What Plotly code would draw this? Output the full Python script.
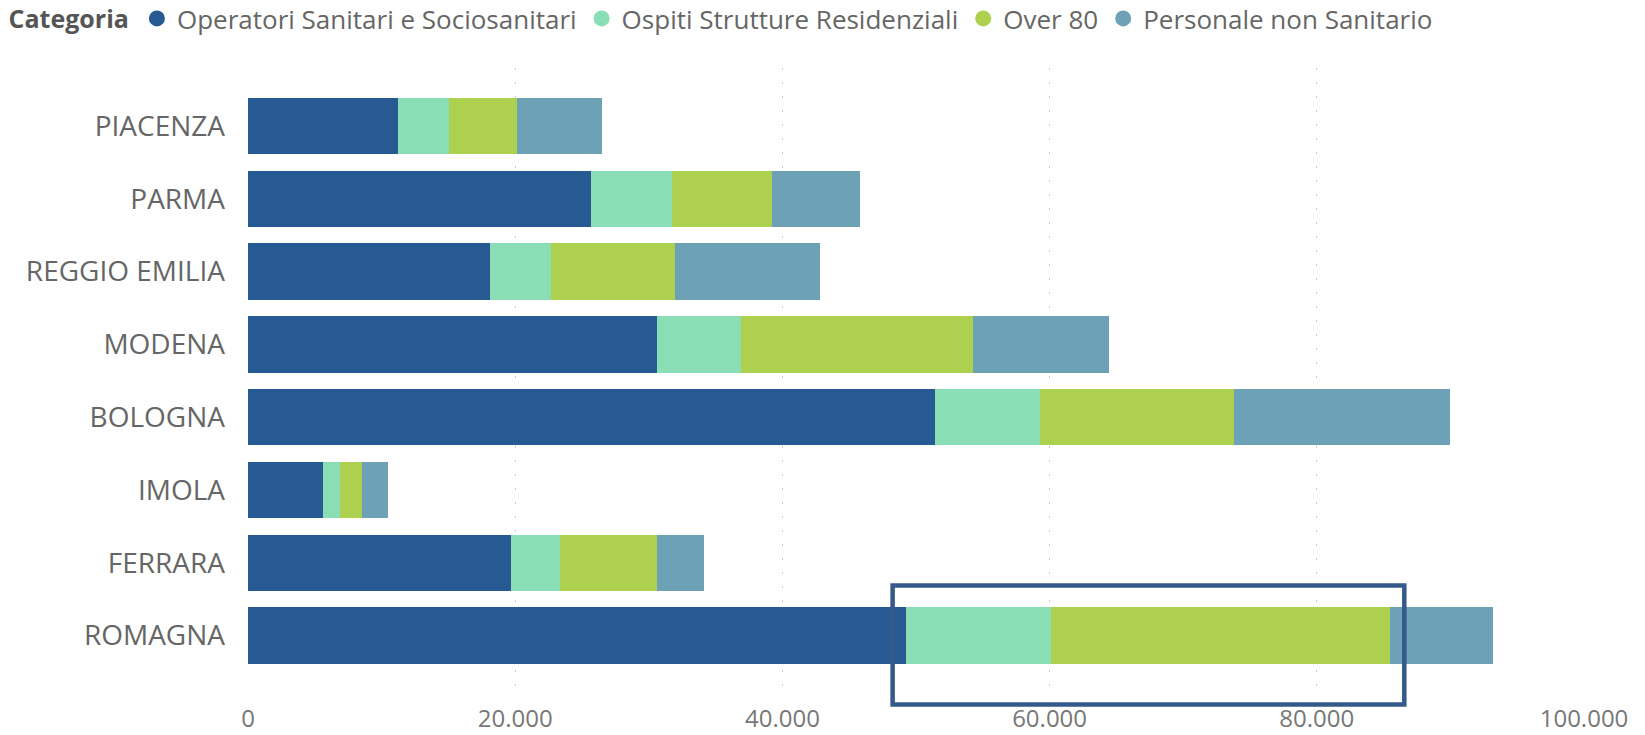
import plotly.graph_objects as go

# ---- data ----
regions = ["PIACENZA", "PARMA", "REGGIO EMILIA", "MODENA", "BOLOGNA", "IMOLA", "FERRARA", "ROMAGNA"]
operatori = [11240, 25700, 18110, 30600, 51420, 5600, 19650, 49220]
ospiti = [3820, 6010, 4590, 6280, 7890, 1310, 3690, 10920]
over80 = [5110, 7510, 9230, 17390, 14520, 1600, 7300, 25330]
personale = [6310, 6610, 10860, 10170, 16150, 1940, 3520, 7730]

series_names = ["Operatori Sanitari e Sociosanitari", "Ospiti Strutture Residenziali",
                "Over 80", "Personale non Sanitario"]
series_colors = ["#275A92", "#89DEB6", "#AED04F", "#6DA1B6"]

x_tickvals = [0, 20000, 40000, 60000, 80000, 100000]
x_ticktext = ["0", "20.000", "40.000", "60.000", "80.000", "100.000"]

# highlight box (x in data units)
box_x = [48250, 86550]

FONT = "Open Sans"

fig = go.Figure()
for name, vals, col in zip(series_names, [operatori, ospiti, over80, personale], series_colors):
    fig.add_trace(go.Bar(
        y=regions, x=vals, name=name, orientation="h",
        marker=dict(color=col, line=dict(width=0)),
        legendgroup=name, showlegend=False,
    ))
for name, col in zip(series_names, series_colors):
    fig.add_trace(go.Scatter(
        x=[None], y=[None], mode="markers", name=name, legendgroup=name,
        marker=dict(symbol="circle", size=22, color=col), showlegend=True,
    ))

fig.add_shape(type="rect", xref="x", yref="paper",
              x0=box_x[0], x1=box_x[1], y0=-0.0152, y1=0.1746,
              line=dict(color="#34598A", width=4.5), fillcolor="rgba(0,0,0,0)",
              layer="above")

fig.update_layout(
    width=1645, height=735,
    margin=dict(l=247.5, r=60.5, t=68, b=40, pad=0, autoexpand=False),
    barmode="stack", bargap=0.224,
    plot_bgcolor="white", paper_bgcolor="white",
    font=dict(family=FONT, color="#666666"),
    showlegend=True,
    legend=dict(
        orientation="h", xref="container", yref="paper",
        x=0.004, y=1.1164, xanchor="left", yanchor="top",
        title=dict(text="<b>Categoria</b>", font=dict(family=FONT, size=25, color="#555555"), side="left"),
        font=dict(family=FONT, size=26, color="#666666"),
        itemwidth=30, tracegroupgap=0, traceorder="normal",
        bgcolor="rgba(0,0,0,0)", borderwidth=0,
    ),
    xaxis=dict(
        range=[0, 100000], tickvals=x_tickvals, ticktext=x_ticktext,
        showgrid=True, gridcolor="#C8C8C8", gridwidth=1, griddash="2px,12px",
        zeroline=False, showline=False, ticks="", automargin=False,
        tickfont=dict(family=FONT, size=24, color="#777777"),
        ticklabelstandoff=7, fixedrange=True,
    ),
    yaxis=dict(
        type="category", categoryorder="array", categoryarray=regions,
        range=[7.817, -0.797], automargin=False,
        showgrid=False, zeroline=False, showline=False, ticks="",
        tickfont=dict(family=FONT, size=28, color="#666666"),
        ticklabelstandoff=22, fixedrange=True,
    ),
)

fig.write_html("out.html", config={"displayModeBar": False},
               post_script="document.body.style.margin='0';document.body.style.overflow='hidden';")
